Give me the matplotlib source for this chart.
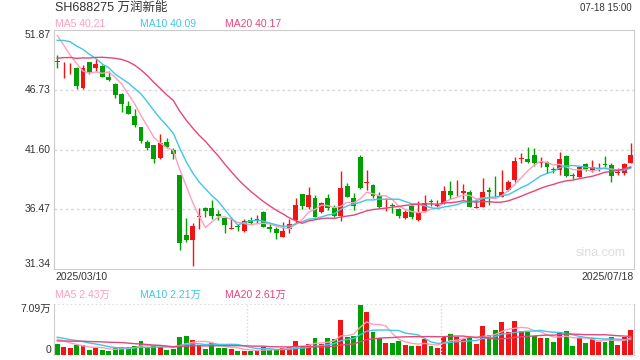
import numpy as np
import matplotlib
matplotlib.use('Agg')
import matplotlib.pyplot as plt

plt.rcParams['font.family'] = ['Liberation Sans', 'Noto Sans CJK SC', 'DejaVu Sans']

# daily OHLC, 2025/03/10 .. 2025/07/18
open_ = [49.21, 48.40, 48.40, 48.58, 46.92, 49.09, 48.58, 48.78, 47.83, 47.23,
         46.37, 45.34, 44.48, 43.54, 42.25, 41.99, 40.90, 42.28, 41.56, 39.41,
         34.26, 33.83, 35.80, 36.58, 36.58, 36.06, 35.72, 34.80, 35.00, 34.63,
         35.55, 35.58, 36.24, 34.98, 34.75, 34.12, 34.75, 35.55, 37.78, 36.64,
         37.41, 36.26, 37.41, 36.61, 35.89, 38.47, 37.41, 40.99, 38.75, 38.56,
         37.61, 36.72, 36.78, 36.46, 35.69, 36.75, 35.55, 36.35, 37.12, 36.78,
         37.04, 38.07, 37.75, 37.84, 37.95, 36.61, 36.69, 38.13, 37.69, 37.55,
         38.13, 38.98, 40.82, 40.79, 41.13, 40.44, 40.56, 39.86, 39.84, 41.05,
         39.35, 39.27, 40.36, 39.84, 39.96, 40.29, 40.27, 39.58, 39.61, 40.47]
close = [49.15, 48.43, 48.43, 47.09, 48.58, 48.29, 48.95, 47.86, 47.60, 46.29,
         45.51, 44.65, 43.71, 42.36, 41.71, 40.82, 42.13, 41.79, 41.22, 33.54,
         33.83, 35.03, 35.83, 36.35, 35.89, 35.89, 35.12, 34.83, 34.98, 35.43,
         35.32, 35.61, 34.98, 34.75, 34.46, 34.63, 35.20, 36.81, 36.78, 37.67,
         35.83, 37.04, 36.61, 35.89, 38.27, 37.55, 36.75, 38.33, 38.78, 37.64,
         36.64, 36.75, 36.75, 35.89, 36.24, 35.78, 36.26, 36.98, 37.10, 36.81,
         38.07, 37.67, 37.78, 38.07, 36.69, 36.64, 37.95, 37.98, 37.67, 37.95,
         38.84, 40.62, 40.85, 40.56, 40.42, 40.47, 40.13, 39.84, 40.76, 39.33,
         39.33, 40.07, 39.90, 40.07, 39.99, 40.27, 39.33, 39.61, 40.36, 41.13]
high = [49.72, 49.09, 49.00, 48.66, 48.86, 49.15, 49.35, 48.89, 48.38, 47.29,
        46.43, 45.80, 45.05, 43.54, 42.42, 41.99, 42.94, 42.62, 41.71, 39.41,
        35.69, 35.26, 36.58, 36.64, 37.27, 36.41, 35.78, 35.69, 35.20, 35.61,
        35.78, 35.98, 36.29, 35.20, 34.98, 35.41, 35.61, 37.41, 37.78, 38.41,
        37.70, 37.12, 37.75, 36.80, 39.76, 38.76, 37.84, 41.10, 39.84, 38.64,
        37.95, 37.41, 36.98, 36.55, 36.41, 36.84, 37.21, 37.67, 37.32, 37.27,
        38.47, 38.93, 38.98, 38.64, 38.13, 37.32, 39.18, 38.41, 39.33, 39.84,
        38.98, 40.93, 41.27, 41.85, 41.71, 40.93, 40.65, 40.07, 41.42, 41.13,
        39.61, 40.13, 40.47, 40.70, 40.47, 41.05, 40.47, 39.99, 40.47, 42.19]
low = [48.58, 47.72, 48.09, 46.77, 46.80, 48.06, 48.38, 47.86, 47.52, 46.00,
       44.85, 44.63, 43.57, 42.13, 41.56, 40.47, 40.76, 41.71, 40.76, 32.97,
       33.69, 31.60, 34.74, 35.78, 35.66, 35.55, 34.40, 34.75, 34.63, 34.55,
       35.18, 35.26, 34.92, 34.52, 33.89, 34.06, 34.46, 35.26, 36.49, 36.46,
       35.78, 36.18, 36.41, 35.78, 35.49, 37.50, 36.41, 38.18, 38.13, 37.41,
       36.55, 36.35, 36.18, 35.69, 35.61, 35.61, 35.49, 36.26, 36.75, 36.69,
       36.92, 37.32, 37.61, 37.32, 36.64, 36.55, 36.64, 36.84, 37.50, 37.50,
       38.07, 38.84, 40.47, 40.47, 40.19, 40.07, 39.56, 39.56, 39.41, 39.27,
       39.04, 39.21, 39.79, 39.70, 39.79, 40.07, 38.84, 39.41, 39.41, 40.42]
# volume, 万 shares
volume = [1.54, 1.12, 0.98, 1.40, 1.35, 0.70, 0.98, 0.70, 0.56, 1.03,
          1.07, 1.07, 1.26, 1.96, 1.07, 1.26, 1.17, 0.70, 0.84, 2.47,
          2.66, 2.10, 1.40, 0.84, 1.73, 0.93, 1.03, 0.84, 0.56, 0.56,
          0.56, 0.60, 1.17, 0.70, 0.70, 0.93, 1.17, 1.91, 1.17, 1.54,
          2.33, 1.54, 2.33, 2.19, 4.90, 2.47, 2.66, 7.00, 6.02, 3.13,
          2.38, 1.73, 1.73, 1.96, 1.40, 1.26, 1.26, 2.19, 1.26, 0.98,
          2.57, 2.94, 2.57, 2.24, 2.47, 1.54, 4.06, 2.75, 3.50, 4.52,
          3.13, 4.66, 3.36, 3.13, 2.66, 2.43, 2.43, 1.87, 3.13, 3.27,
          1.26, 2.43, 1.73, 2.43, 1.87, 1.87, 2.52, 1.40, 2.57, 3.50]
# closes / volumes of the 19 sessions before 03/10 (only feed the MA lines)
prior_close = [47.5, 48.2, 48.6, 47.8, 48.4, 48.0, 47.6, 48.3, 47.4, 47.4,
               48.5, 49.5, 50.8, 51.5, 52.5, 52.55, 52.7, 50.7, 51.9]
prior_vol = [1.3, 1.5, 1.4, 1.6, 1.4, 1.5, 1.3, 1.6, 1.4, 1.5,
             2.6, 2.9, 2.7, 2.8, 2.7, 2.3, 2.4, 2.5, 2.3]

y_ticks = [31.34, 36.47, 41.60, 46.73, 51.87]
vol_max = 7.09
date_left, date_right = '2025/03/10', '2025/07/18'

UP = '#f01414'
DOWN = '#00a000'
C_MA5 = '#ff9ebd'
C_MA10 = '#3cc8e6'
C_MA20 = '#e8457a'
GRID = '#d9d9d9'
TXT = '#333333'


def ma(prior, vals, n):
    s = np.array(prior + vals, dtype=float)
    out = np.convolve(s, np.ones(n) / n, mode='valid')
    return out[len(out) - len(vals):]


n = len(close)
x = np.arange(n)
o, c, h, l = map(np.array, (open_, close, high, low))
up = c >= o
colors = np.where(up, UP, DOWN)

fig = plt.figure(figsize=(6.4, 3.6), dpi=100)
W, H = 640.0, 360.0
ax = fig.add_axes([54 / W, 1 - 269 / H, 580 / W, 239 / H])
vax = fig.add_axes([54 / W, 1 - 355 / H, 580 / W, 51 / H])

# price panel
ax.vlines(x, l, h, colors=colors, linewidth=1)
body_lo = np.minimum(o, c)
body_h = np.abs(c - o)
ax.bar(x, np.maximum(body_h, 0.06), bottom=body_lo, width=0.75, color=colors, linewidth=0)
for name, per, col in (('MA5', 5, C_MA5), ('MA10', 10, C_MA10), ('MA20', 20, C_MA20)):
    ax.plot(x, ma(prior_close, close, per), color=col, linewidth=1)
ax.set_xlim(-0.5, n - 0.5)
ax.set_ylim(y_ticks[0], y_ticks[-1])
for v in y_ticks[1:-1]:
    ax.axhline(v, color=GRID, linestyle=(0, (2, 2)), linewidth=1, zorder=0)
ax.set_xticks([])
ax.set_yticks([])
for sp in ax.spines.values():
    sp.set_color('#cccccc')
ax.text(0.985, 0.04, 'sina.com', transform=ax.transAxes, ha='right', va='bottom',
        color='#dddddd', fontsize=9)

# volume panel
vax.bar(x, volume, width=0.75, color=colors, linewidth=0)
for per, col in ((5, C_MA5), (10, C_MA10), (20, C_MA20)):
    vax.plot(x, ma(prior_vol, volume, per), color=col, linewidth=1)
vax.set_xlim(-0.5, n - 0.5)
vax.set_ylim(0, vol_max)
vax.axhline(vol_max, color=GRID, linestyle=(0, (1, 1.5)), linewidth=1.2)
for f in (1 / 3, 2 / 3):
    vax.axvline(-0.5 + n * f, color=GRID, linestyle=(0, (1, 1.5)), linewidth=1)
vax.set_xticks([])
vax.set_yticks([])
for k in ('top', 'bottom'):
    vax.spines[k].set_visible(False)
for k in ('left', 'right'):
    vax.spines[k].set_color('#cccccc')


def ftext(px, py, s, **kw):
    kw.setdefault('fontsize', 7.5)
    kw.setdefault('color', TXT)
    fig.text(px / W, 1 - py / H, s, **kw)


# y labels
ftext(51, 30, '%.2f' % y_ticks[-1], ha='right', va='top')
for v in y_ticks[1:-1]:
    py = 30 + (y_ticks[-1] - v) / (y_ticks[-1] - y_ticks[0]) * 239
    ftext(51, py, '%.2f' % v, ha='right', va='center')
ftext(51, 269, '%.2f' % y_ticks[0], ha='right', va='bottom')
ftext(51, 304, '%.2f万' % vol_max, ha='right', va='top')
ftext(51, 355, '0', ha='right', va='bottom')

# header
ftext(55, 8, 'SH688275 万润新能', fontsize=9, va='center')
ftext(632, 8, '07-18 15:00', ha='right', va='center', fontsize=7)
ftext(55, 24, 'MA5 40.21', color=C_MA5, va='center')
ftext(140, 24, 'MA10 40.09', color=C_MA10, va='center')
ftext(225, 24, 'MA20 40.17', color=C_MA20, va='center')

# dates + volume legend
ftext(55, 277, date_left, va='center')
ftext(634, 277, date_right, ha='right', va='center')
ftext(55, 295, 'MA5 2.43万', color=C_MA5, va='center')
ftext(140, 295, 'MA10 2.21万', color=C_MA10, va='center')
ftext(225, 295, 'MA20 2.61万', color=C_MA20, va='center')

fig.savefig('out.png', dpi=100)
